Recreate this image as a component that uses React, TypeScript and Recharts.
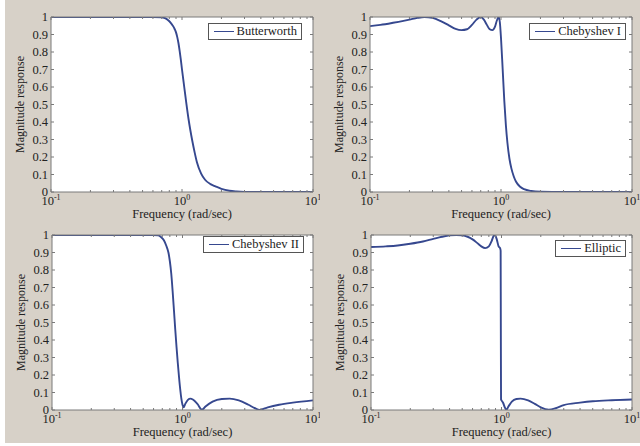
import { CartesianGrid, Line, LineChart, XAxis, YAxis } from "recharts";

// frequency (rad/sec) / magnitude pairs
const butterFreq = [0.1, 0.3, 0.5, 0.6, 0.7, 0.74, 0.78, 0.82, 0.86, 0.88, 0.9, 0.92, 0.94, 0.96, 0.98, 1.0, 1.04, 1.08, 1.12, 1.16, 1.2, 1.25, 1.3, 1.4, 1.5, 1.65, 1.8, 2.0, 2.3, 2.6, 3, 5, 10];
const butterMag = [1, 1, 1, 1, 0.998, 0.993, 0.983, 0.967, 0.945, 0.93, 0.912, 0.885, 0.85, 0.805, 0.755, 0.7, 0.6, 0.505, 0.42, 0.35, 0.29, 0.225, 0.17, 0.105, 0.07, 0.045, 0.032, 0.018, 0.007, 0.003, 0.001, 0, 0];

const cheby1Freq = [0.1, 0.12, 0.15, 0.18, 0.2, 0.23, 0.26, 0.3, 0.35, 0.4, 0.45, 0.5, 0.55, 0.6, 0.65, 0.7, 0.74, 0.78, 0.82, 0.86, 0.9, 0.93, 0.96, 0.98, 1.0, 1.03, 1.06, 1.09, 1.12, 1.16, 1.2, 1.25, 1.3, 1.4, 1.5, 1.7, 2, 3, 10];
const cheby1Mag = [0.948, 0.955, 0.967, 0.978, 0.985, 0.995, 1.0, 0.995, 0.975, 0.952, 0.932, 0.925, 0.93, 0.955, 0.985, 1.0, 0.985, 0.955, 0.93, 0.925, 0.945, 0.98, 1.0, 0.97, 0.88, 0.7, 0.52, 0.38, 0.28, 0.19, 0.135, 0.09, 0.06, 0.03, 0.016, 0.006, 0.002, 0, 0];

const cheby2Freq = [0.1, 0.3, 0.5, 0.6, 0.65, 0.68, 0.72, 0.75, 0.78, 0.8, 0.82, 0.84, 0.86, 0.88, 0.9, 0.92, 0.94, 0.96, 0.98, 1.0, 1.02, 1.05, 1.1, 1.15, 1.2, 1.3, 1.41, 1.5, 1.7, 2.0, 2.3, 2.7, 3.2, 3.6, 3.9, 4.5, 5.5, 7, 10];
const cheby2Mag = [1, 1, 1, 1, 0.998, 0.99, 0.97, 0.94, 0.9, 0.85, 0.78, 0.68, 0.57, 0.46, 0.36, 0.27, 0.19, 0.12, 0.065, 0.03, 0.015, 0.035, 0.058, 0.065, 0.06, 0.035, 0.002, 0.02, 0.048, 0.063, 0.065, 0.055, 0.03, 0.01, 0.001, 0.015, 0.03, 0.042, 0.055];

const ellipFreq = [0.1, 0.13, 0.16, 0.2, 0.25, 0.3, 0.35, 0.4, 0.45, 0.5, 0.55, 0.6, 0.65, 0.7, 0.75, 0.8, 0.84, 0.87, 0.89, 0.92, 0.95, 0.975, 0.985, 0.988, 0.992, 1.0, 1.03, 1.06, 1.09, 1.13, 1.2, 1.3, 1.4, 1.6, 1.8, 2.0, 2.3, 2.6, 3, 4, 5, 7, 10];
const ellipMag = [0.931, 0.935, 0.94, 0.95, 0.963, 0.978, 0.99, 0.998, 1.0, 0.998, 0.99, 0.975, 0.955, 0.935, 0.925, 0.935, 0.965, 0.995, 1.0, 0.975, 0.935, 0.925, 0.91, 0.5, 0.06, 0.055, 0.04, 0.015, 0.002, 0.02, 0.048, 0.063, 0.065, 0.055, 0.035, 0.015, 0.002, 0.01, 0.028, 0.042, 0.05, 0.056, 0.06];

const freqTicks = [0.1, 0.2, 0.3, 0.4, 0.5, 0.6, 0.7, 0.8, 0.9, 1, 2, 3, 4, 5, 6, 7, 8, 9, 10];
const decades = [0.1, 1, 10];
const decadeExps = ["-1", "0", "1"];
const magTicks = [0, 0.1, 0.2, 0.3, 0.4, 0.5, 0.6, 0.7, 0.8, 0.9, 1];
const magLabels = ["0", "0.1", "0.2", "0.3", "0.4", "0.5", "0.6", "0.7", "0.8", "0.9", "1"];

const FONT = '"Liberation Serif", "DejaVu Serif", serif';
const FS = 12.5;
const AXIS = "#7a7a7a";
const TEXT = "#222";
const LINE = "#36488f";
const BG = "#d7d1c8";

const toRows = (f: number[], m: number[]) => f.map((v, i) => ({ f: v, m: m[i] }));

const expFor = (v: number) => {
  const i = decades.findIndex((d) => Math.abs(d - v) < 1e-9);
  return i >= 0 ? decadeExps[i] : null;
};
const magLabel = (v: number) => {
  const i = magTicks.findIndex((d) => Math.abs(d - v) < 1e-9);
  return i >= 0 ? magLabels[i] : "";
};

function BottomTick({ x, y, payload }: any) {
  const e = expFor(payload.value);
  return (
    <g>
      <line x1={x} y1={y} x2={x} y2={y - (e ? 3 : 2)} stroke={AXIS} />
      {e && (
        <text x={x} y={y + 13} textAnchor="middle" fontSize={FS} fill={TEXT} fontFamily={FONT}>
          10
          <tspan fontSize={8} dy={-5}>
            {e}
          </tspan>
        </text>
      )}
    </g>
  );
}

function TopTick({ x, y, payload }: any) {
  const e = expFor(payload.value);
  return <line x1={x} y1={y} x2={x} y2={y + (e ? 3 : 2)} stroke={AXIS} />;
}

function LeftTick({ x, y, payload }: any) {
  return (
    <g>
      <line x1={x} y1={y} x2={x + 3} y2={y} stroke={AXIS} />
      <text x={x - 3} y={y + 4} textAnchor="end" fontSize={FS} fill={TEXT} fontFamily={FONT}>
        {magLabel(payload.value)}
      </text>
    </g>
  );
}

function RightTick({ x, y }: any) {
  return <line x1={x} y1={y} x2={x - 3} y2={y} stroke={AXIS} />;
}

interface PanelProps {
  name: string;
  freq: number[];
  mag: number[];
  left: number;
  top: number;
  plot: { left: number; top: number; right: number; bottom: number };
  legend: { right: number; top: number };
}

function Panel({ name, freq, mag, left, top, plot, legend }: PanelProps) {
  const W = 320;
  const H = 223;
  return (
    <div style={{ position: "absolute", left, top, width: W, height: H }}>
      <LineChart
        width={W}
        height={H}
        data={toRows(freq, mag)}
        margin={{ top: plot.top - 1, right: plot.right - 1, bottom: 0, left: 0 }}
      >
        <CartesianGrid fill="#ffffff" horizontal={false} vertical={false} />
        <XAxis
          dataKey="f"
          type="number"
          scale="log"
          domain={[0.1, 10]}
          allowDataOverflow
          ticks={freqTicks}
          interval={0}
          height={plot.bottom}
          tickSize={0}
          tickMargin={0}
          stroke={AXIS}
          tick={(p: any) => <BottomTick {...p} />}
          label={{
            value: "Frequency (rad/sec)",
            content: (p: any) => {
              const vb = p.viewBox;
              return (
                <text x={vb.x + vb.width / 2} y={vb.y + 26} textAnchor="middle" fontSize={FS} fill={TEXT} fontFamily={FONT}>
                  Frequency (rad/sec)
                </text>
              );
            },
          }}
        />
        <XAxis
          xAxisId="top"
          orientation="top"
          dataKey="f"
          type="number"
          scale="log"
          domain={[0.1, 10]}
          allowDataOverflow
          ticks={freqTicks}
          interval={0}
          height={1}
          tickSize={0}
          tickMargin={0}
          stroke={AXIS}
          tick={(p: any) => <TopTick {...p} />}
        />
        <YAxis
          type="number"
          domain={[0, 1]}
          allowDataOverflow
          ticks={magTicks}
          interval={0}
          width={plot.left}
          tickSize={0}
          tickMargin={0}
          stroke={AXIS}
          tick={(p: any) => <LeftTick {...p} />}
          label={{
            value: "Magnitude response",
            content: (p: any) => {
              const vb = p.viewBox;
              const cx = vb.x + vb.width - 31;
              const cy = vb.y + vb.height / 2;
              return (
                <text
                  x={cx}
                  y={cy}
                  transform={`rotate(-90 ${cx} ${cy})`}
                  textAnchor="middle"
                  dominantBaseline="central"
                  fontSize={12}
                  fill={TEXT}
                  fontFamily={FONT}
                >
                  Magnitude response
                </text>
              );
            },
          }}
        />
        <YAxis
          yAxisId="right"
          orientation="right"
          type="number"
          domain={[0, 1]}
          allowDataOverflow
          ticks={magTicks}
          interval={0}
          width={1}
          tickSize={0}
          tickMargin={0}
          stroke={AXIS}
          tick={(p: any) => <RightTick {...p} />}
        />
        <Line
          type="monotone"
          dataKey="m"
          stroke={LINE}
          strokeWidth={1.9}
          dot={false}
          isAnimationActive={false}
        />
      </LineChart>
      <div
        style={{
          position: "absolute",
          right: legend.right,
          top: legend.top,
          height: 15,
          background: "#fff",
          border: "1px solid #555",
          display: "flex",
          alignItems: "center",
          padding: "0 4px 0 5px",
          fontFamily: FONT,
          fontSize: FS,
          color: TEXT,
          whiteSpace: "nowrap",
        }}
      >
        <span style={{ display: "inline-block", width: 20, height: 0, borderTop: `1.5px solid ${LINE}`, marginRight: 3 }} />
        {name}
      </div>
    </div>
  );
}

export default function App() {
  return (
    <div style={{ position: "absolute", left: 0, top: 0, width: 640, height: 446, background: "#fff", overflow: "hidden" }}>
      <div style={{ position: "absolute", left: 5, top: 0, width: 635, height: 443, background: BG }} />
      <Panel
        name="Butterworth"
        freq={butterFreq}
        mag={butterMag}
        left={0}
        top={0}
        plot={{ left: 51, top: 17, right: 7, bottom: 31 }}
        legend={{ right: 18, top: 23 }}
      />
      <Panel
        name="Chebyshev I"
        freq={cheby1Freq}
        mag={cheby1Mag}
        left={320}
        top={0}
        plot={{ left: 50, top: 17, right: 8, bottom: 31 }}
        legend={{ right: 14, top: 23 }}
      />
      <Panel
        name="Chebyshev II"
        freq={cheby2Freq}
        mag={cheby2Mag}
        left={0}
        top={223}
        plot={{ left: 52, top: 12, right: 7, bottom: 36 }}
        legend={{ right: 16, top: 13 }}
      />
      <Panel
        name="Elliptic"
        freq={ellipFreq}
        mag={ellipMag}
        left={320}
        top={223}
        plot={{ left: 51, top: 12, right: 8, bottom: 36 }}
        legend={{ right: 14, top: 17 }}
      />
    </div>
  );
}
